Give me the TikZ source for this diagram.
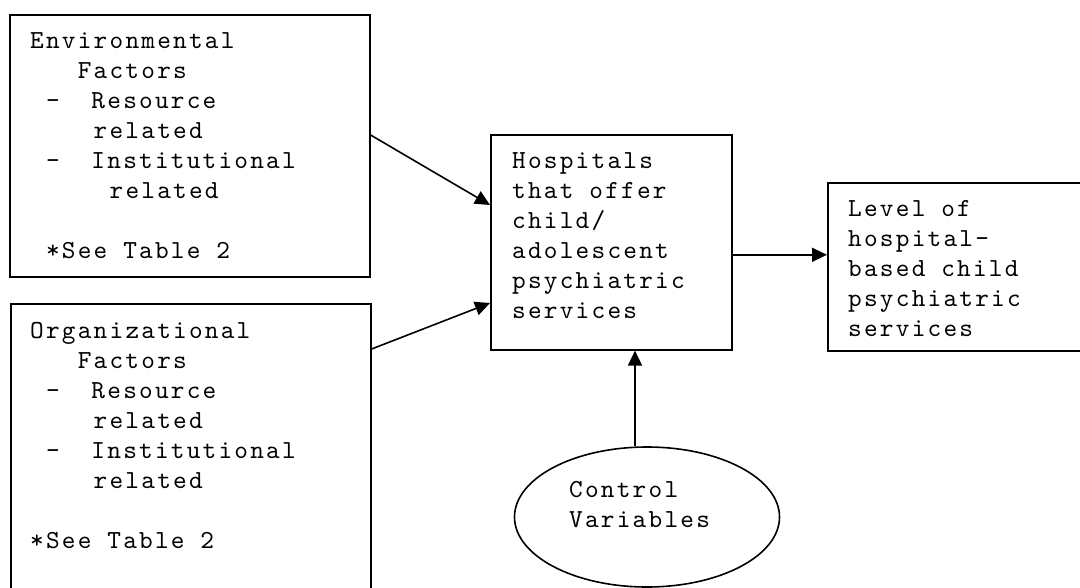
\documentclass[tikz,border=0pt]{standalone}
\usepackage{fontspec}
\newfontfamily\boxfont{lmmono10-regular.otf}[LetterSpace=8.6]
\usetikzlibrary{arrows.meta,shapes.geometric}
\newcommand\boxsize{\fontsize{26pt}{30pt}\selectfont}
% width of one character cell (letter spacing included)
\newlength\cellw
\newlength\cellwtmp
\AtBeginDocument{%
  \settowidth\cellw{\boxfont\boxsize xx}%
  \settowidth\cellwtmp{\boxfont\boxsize x}%
  \addtolength\cellw{-\cellwtmp}}
\newcommand\cells[1]{\hspace*{#1\cellw}}
\begin{document}
\begin{tikzpicture}[x=1pt,y=-1pt,
  box/.style={draw,line width=1.6pt,rectangle,inner sep=0pt,anchor=north west},
  txt/.style={inner sep=0pt,anchor=base west,font=\boxfont\boxsize},
  arr/.style={line width=1.6pt,-{Triangle[length=15pt,width=14pt]}}]
\useasboundingbox (0,0) rectangle (1080,587);
\clip (0,0) rectangle (1080,587);

% boxes
\node[box,minimum width=360pt,minimum height=262pt] (env) at (9,14) {};
\node[box,minimum width=360pt,minimum height=300pt] (org) at (10,303) {};
\node[box,minimum width=241pt,minimum height=215pt] (mid) at (490,134) {};
\node[box,minimum width=270pt,minimum height=168pt] (lvl) at (827,182) {};
\node[draw,line width=1.6pt,ellipse,inner sep=0pt,minimum width=265pt,minimum height=140pt] (ctrl) at (647,517) {};

% texts
\node[txt] (envtxt) at (30,48) {\begin{tabular}[t]{@{}l@{}}
Environmental\\
\cells{3}Factors\\
\cells{1}-\cells{2}Resource\\
\cells{4}related\\
\cells{1}-\cells{2}Institutional\\
\cells{5}related\\
\\
\cells{1}*See Table 2
\end{tabular}};

\node[txt] (orgtxt) at (30,338) {\begin{tabular}[t]{@{}l@{}}
Organizational\\
\cells{3}Factors\\
\cells{1}-\cells{2}Resource\\
\cells{4}related\\
\cells{1}-\cells{2}Institutional\\
\cells{4}related\\
\\
\relax*See Table 2
\end{tabular}};

\node[txt] (midtxt) at (512,168) {\begin{tabular}[t]{@{}l@{}}
Hospitals\\
that offer\\
child/\\
adolescent\\
psychiatric\\
services
\end{tabular}};

\node[txt] (lvltxt) at (848,216) {\begin{tabular}[t]{@{}l@{}}
Level of\\
hospital-\\
based child\\
psychiatric\\
services
\end{tabular}};

\node[txt] (ctrltxt) at (569,497) {\begin{tabular}[t]{@{}l@{}}
Control\\
Variables
\end{tabular}};

% connectors
\draw[arr] ([yshift=-121pt]env.north east) -- ([yshift=-71pt]mid.north west);
\draw[arr] ([yshift=-46pt]org.north east) -- ([yshift=-169pt]mid.north west);
\draw[arr] ([yshift=-12.5pt]mid.east) -- ([yshift=-12.5pt]mid.east -| lvl.west);
\draw[arr] ([xshift=-12pt]ctrl.north) -- ([xshift=-12pt]ctrl.north |- mid.south);
\end{tikzpicture}
\end{document}
